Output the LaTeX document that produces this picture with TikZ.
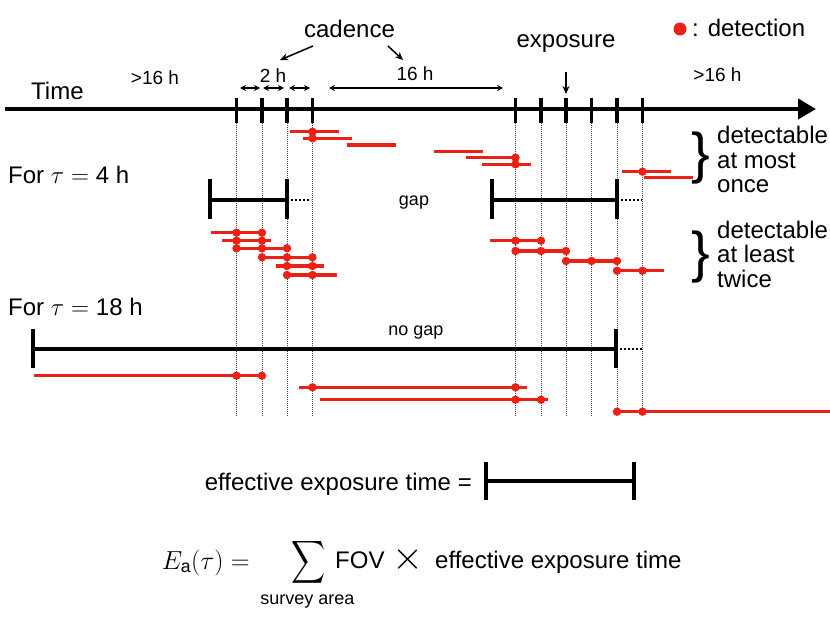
\documentclass[tikz,border=0pt]{standalone}
\usepackage{amsmath}
\usepackage{fontspec}
\setmainfont{Liberation Sans}
\usetikzlibrary{arrows.meta}
\definecolor{det}{RGB}{237,32,22}
\tikzset{
  axisline/.style={line width=4pt},
  tickmark/.style={line width=3.5pt},
  guide/.style={line width=0.6pt, dash pattern=on 1pt off 1pt, black!75},
  gapbar/.style={line width=3.5pt},
  gapcap/.style={line width=4.5pt},
  ext/.style={line width=2pt, dash pattern=on 2pt off 2pt},
  obs/.style={line width=3.2pt, det},
  big/.style={font=\fontsize{24}{26}\selectfont, inner sep=0pt},
  small/.style={font=\fontsize{19}{21}\selectfont, inner sep=0pt},
  tiny/.style={font=\fontsize{18}{20}\selectfont, inner sep=0pt},
  dbl/.style={{Stealth[length=6pt,width=6pt]}-{Stealth[length=6pt,width=6pt]}, line width=1.2pt},
  pointer/.style={-{Stealth[length=8pt,width=7pt]}, line width=1.5pt},
}
\newcommand\obsseg[3]{\draw[obs] (#2,#1) -- (#3,#1);}
\newcommand\obsdots[2]{\foreach \k in {#2}{\fill[det] (t\k |- 0,#1) circle (4.2pt);}}
\begin{document}
\begin{tikzpicture}[x=1pt,y=-1pt]
\useasboundingbox (0,0) rectangle (830,623);
% ticks and guides
\foreach \x [count=\i] in {236.5,262,287,312.5,515.5,541,566,591.5,617,642.5}{
  \coordinate (t\i) at (\x,109);
  \coordinate (b\i) at (\x,417);
  \draw[guide] (t\i) -- (b\i);
}
% time axis
\coordinate (ax0) at (5,109);
\coordinate (ax1) at (816,109);
\draw[axisline, -{Triangle[length=18pt,width=20pt]}] (ax0) -- (ax1);
\foreach \i in {1,...,10}{\draw[tickmark] (t\i) ++(0,-11) -- ++(0,25);}
% labels on top
\node[big, anchor=base west] (time) at (31,100) {Time};
\node[small, anchor=base] (gtl) at (155,85) {>16 h};
\node[small, anchor=base] (twoh) at (273,83) {2 h};
\node[small, anchor=base] (sixteen) at (415,81) {16 h};
\node[small, anchor=base] (gtr) at (717.5,82) {>16 h};
\node[big, anchor=base] (cadence) at (349.5,38) {cadence};
\node[big, anchor=base] (exposure) at (566,48) {exposure};
\fill[det] (680,29) circle (6.5pt);
\node[big, anchor=base west] (legend) at (692,37) {: detection};
% arrows on top
\coordinate (ca1) at (313,46); \coordinate (ca2) at (280,60);
\coordinate (cb1) at (388,46); \coordinate (cb2) at (403,60);
\draw[pointer] (ca1) -- (ca2);
\draw[pointer] (cb1) -- (cb2);
\coordinate (ex1) at (566,72); \coordinate (ex2) at (566,94);
\draw[pointer] (ex1) -- (ex2);
\coordinate (d1a) at (240,88); \coordinate (d1b) at (260,88);
\coordinate (d2a) at (263,88); \coordinate (d2b) at (284,88);
\coordinate (d3a) at (289,88); \coordinate (d3b) at (310,88);
\coordinate (d4a) at (329,88); \coordinate (d4b) at (503,88);
\draw[dbl] (d1a) -- (d1b);
\draw[dbl] (d2a) -- (d2b);
\draw[dbl] (d3a) -- (d3b);
\draw[dbl] (d4a) -- (d4b);
% ---- tau = 4 h
\node[big, anchor=base west] (tau4) at (8,183) {For $\tau = \text{4 h}$};
\coordinate (ga) at (210,200); \coordinate (gb) at (287,200); \coordinate (gc) at (311,200);
\coordinate (gd) at (492,200); \coordinate (ge) at (617,200); \coordinate (gf) at (642,200);
\draw[gapbar] (ga) -- (gb);
\draw[gapcap] (ga) ++(0,-21) -- ++(0,40);
\draw[gapcap] (gb) ++(0,-21) -- ++(0,40);
\draw[ext] (gb) ++(4,0) -- (gc);
\draw[gapbar] (gd) -- (ge);
\draw[gapcap] (gd) ++(0,-21) -- ++(0,40);
\draw[gapcap] (ge) ++(0,-21) -- ++(0,40);
\draw[ext] (ge) ++(4,0) -- (gf);
\node[tiny, anchor=base] (gaplbl) at (414,205) {gap};
% at most once
\obsseg{131.7}{290}{339}\obsdots{131.7}{4}
\obsseg{138.3}{303}{352}\obsdots{138.3}{4}
\obsseg{145}{347}{396}
\obsseg{151.7}{434}{483}
\obsseg{157.7}{466}{515.5}\obsdots{157.7}{5}
\obsseg{164.3}{482}{531}\obsdots{164.3}{5}
\obsseg{171.7}{622}{671}\obsdots{171.7}{10}
\obsseg{177.7}{644}{693}
% at least twice
\obsseg{232.7}{211}{262}\obsdots{232.7}{1,2}
\obsseg{240.7}{222}{271}\obsdots{240.7}{1,2}
\obsseg{248.3}{236.5}{287}\obsdots{248.3}{1,2,3}
\obsseg{257.3}{262}{312.5}\obsdots{257.3}{2,3,4}
\obsseg{266}{276}{324}\obsdots{266}{3,4}
\obsseg{275}{287}{337}\obsdots{275}{3,4}
\obsseg{240.7}{490}{541}\obsdots{240.7}{5,6}
\obsseg{251}{515.5}{566}\obsdots{251}{5,6,7}
\obsseg{261}{566}{617}\obsdots{261}{7,8,9}
\obsseg{270.7}{617}{664}\obsdots{270.7}{9,10}
% braces
\node[inner sep=0pt, font=\fontsize{56}{56}\selectfont] (br1) at (701,158) {\}};
\node[big, anchor=base west] (m1) at (717,144) {detectable};
\node[big, anchor=base west] (m2) at (717,168.5) {at most};
\node[big, anchor=base west] (m3) at (717,193) {once};
\node[inner sep=0pt, font=\fontsize{56}{56}\selectfont] (br2) at (701,257.5) {\}};
\node[big, anchor=base west] (l1) at (717,238) {detectable};
\node[big, anchor=base west] (l2) at (717,262.5) {at least};
\node[big, anchor=base west] (l3) at (717,287) {twice};
% ---- tau = 18 h
\node[big, anchor=base west] (tau18) at (8,315) {For $\tau = \text{18 h}$};
\coordinate (na) at (33,349); \coordinate (nb) at (616,349); \coordinate (nc) at (642,349);
\draw[gapbar] (na) -- (nb);
\draw[gapcap] (na) ++(0,-20) -- ++(0,39);
\draw[gapcap] (nb) ++(0,-20) -- ++(0,39);
\draw[ext] (nb) ++(4,0) -- (nc);
\node[tiny, anchor=base] (nogap) at (416,335) {no gap};
\obsseg{375.7}{34}{262}\obsdots{375.7}{1,2}
\obsseg{387.3}{299}{527}\obsdots{387.3}{4,5}
\obsseg{399.7}{320}{548}\obsdots{399.7}{5,6}
\obsseg{411.7}{617}{830}\obsdots{411.7}{9,10}
% ---- bottom
\node[big, anchor=base east] (efflbl) at (472,490) {effective exposure time =};
\coordinate (ea) at (486,481); \coordinate (eb) at (634,481);
\draw[gapbar] (ea) -- (eb);
\draw[gapcap] (ea) ++(0,-19) -- ++(0,38);
\draw[gapcap] (eb) ++(0,-19) -- ++(0,38);
\node[inner sep=0pt, anchor=base east, font=\fontsize{24}{26}\selectfont, scale=1.05] (ea1) at (250,569) {$E_{\text{a}}(\tau) =$};
\node[inner sep=0pt, font=\fontsize{24}{26}\selectfont, xscale=0.95, yscale=1.2] (sum) at (308.5,562) {$\displaystyle\sum$};
\node[big, anchor=base west] (fov) at (335,568) {FOV};
\node[inner sep=0pt, font=\fontsize{24}{26}\selectfont, scale=1.6] (times) at (408,560) {$\times$};
\node[big, anchor=base west] (eet) at (435,568) {effective exposure time};
\node[tiny, anchor=base] (survey) at (307.5,604) {survey area};
\end{tikzpicture}
\end{document}
